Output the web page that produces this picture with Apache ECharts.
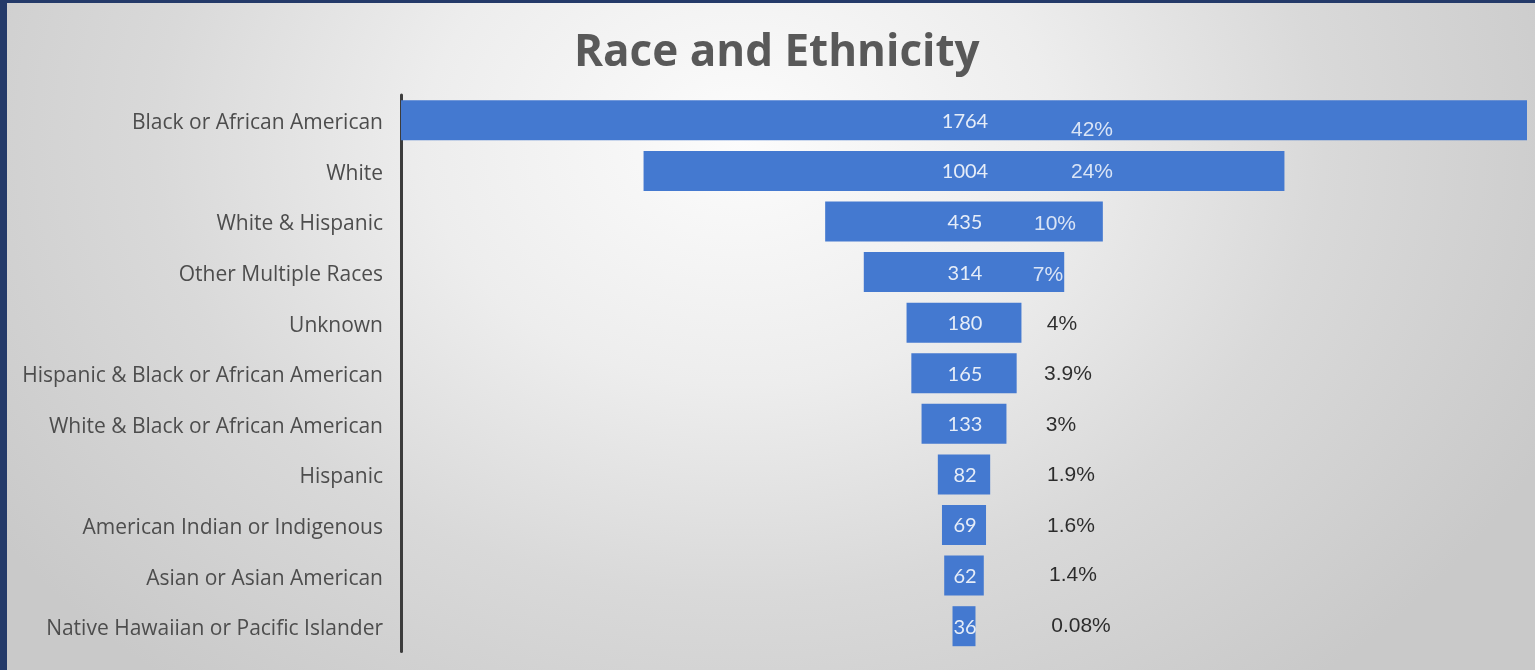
<!DOCTYPE html>
<html>
<head>
<meta charset="utf-8">
<script src="https://cdn.jsdelivr.net/npm/echarts@6/dist/echarts.min.js"></script>
<style>
html,body{margin:0;padding:0;width:1535px;height:670px;overflow:hidden;}
#chart{position:absolute;left:0;top:0;width:1535px;height:670px;
background:radial-gradient(ellipse 900px 700px at 740px 140px,#fcfcfc 0%,#ededed 35%,#d9d9d9 65%,#c9c9c9 100%);}
#bl{position:absolute;left:0;top:0;width:7px;height:670px;background:#243a69;}
#bt{position:absolute;left:0;top:0;width:1535px;height:3px;background:#243a69;}
</style>
</head>
<body>
<div id="chart"></div>
<div id="bl"></div>
<div id="bt"></div>
<script>
const categories = ["Black or African American","White","White & Hispanic","Other Multiple Races","Unknown","Hispanic & Black or African American","White & Black or African American","Hispanic","American Indian or Indigenous","Asian or Asian American","Native Hawaiian or Pacific Islander"];
const counts = [1764,1004,435,314,180,165,133,82,69,62,36];
const percentLabels = ["42%","24%","10%","7%","4%","3.9%","3%","1.9%","1.6%","1.4%","0.08%"];

// styling of the percent text boxes (pixel offsets from the funnel centre line, colours)
const pctOffsetX = [128,128,91,84,98,104,97,107,107,109,117];
const pctOffsetY = [10,1,3,3,2,1,1,1,1,0,0];
const pctColor = ["#ffffff","#ffffff","#ffffff","#ffffff","#000000","#000000","#000000","#000000","#000000","#000000","#000000"];

const maxVal = Math.max(...counts);
const padding = counts.map(v => (maxVal - v) / 2);

const chart = echarts.init(document.getElementById('chart'), null, {renderer:'canvas'});
chart.setOption({
  backgroundColor: 'transparent',
  animation: false,
  title: {
    text: 'Race and Ethnicity',
    left: 569, top: 26,
    textStyle: {fontFamily:'Open Sans', fontWeight:'bold', fontSize:44, color:'#595959'}
  },
  grid: {left: 401, right: 8, top: 95, bottom: 18.5, containLabel: false},
  xAxis: {type:'value', min:0, max:maxVal, show:false},
  yAxis: {
    type:'category', data: categories, inverse:true,
    axisLine:{show:true, lineStyle:{color:'#3c3c3c', width:3}},
    axisTick:{show:false},
    axisLabel:{fontFamily:'Open Sans', fontSize:21, color:'#4d4d4d', margin:18,
      verticalAlign:'top', lineHeight:6}
  },
  series: [
    {type:'bar', stack:'f', data: padding, itemStyle:{color:'transparent'}, barWidth:40, silent:true},
    {type:'bar', stack:'f', data: counts, barWidth:40,
      itemStyle:{color:'#4479d0'},
      label:{show:true, position:'inside', offset:[1,1], fontFamily:'Lato', fontSize:20, color:'#e6edf8',
        formatter: p => String(p.value)}
    },
    {type:'scatter', symbolSize:1, itemStyle:{color:'transparent'}, silent:true,
      data: counts.map((v,i) => ({
        value:[maxVal/2, i],
        label:{show:true, position:'inside', formatter: percentLabels[i],
          offset:[pctOffsetX[i], pctOffsetY[i]], color: pctColor[i],
          fontFamily:'Liberation Sans', fontSize:21}
      }))
    }
  ]
});
</script>
</body>
</html>
